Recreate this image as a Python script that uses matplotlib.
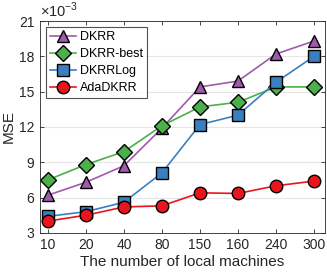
import matplotlib.pyplot as plt
import numpy as np

plt.rcParams['font.family'] = ['Liberation Sans', 'DejaVu Sans']
plt.rcParams['mathtext.fontset'] = 'custom'
plt.rcParams['mathtext.rm'] = 'Liberation Sans'

machines = ['10', '20', '40', '80', '150', '160', '240', '300']
dkrr = [6.2, 7.3, 8.7, 11.9, 15.4, 15.9, 18.2, 19.3]
dkrr_best = [7.5, 8.8, 9.9, 12.1, 13.7, 14.1, 15.4, 15.4]
dkrr_log = [4.4, 4.8, 5.6, 8.1, 12.2, 13.0, 15.8, 18.0]
ada_dkrr = [4.0, 4.5, 5.2, 5.3, 6.4, 6.35, 7.0, 7.4]

fig = plt.figure(figsize=(3.27, 2.73), dpi=100)
ax = fig.add_axes([0.122, 0.147, 0.872, 0.776])

x = np.arange(1, len(machines) + 1)
series = [
    ('DKRR', dkrr, '#A05AAC', '^'),
    ('DKRR-best', dkrr_best, '#4DAF4A', 'D'),
    ('DKRRLog', dkrr_log, '#3A80C0', 's'),
    ('AdaDKRR', ada_dkrr, '#E8161C', 'o'),
]
for name, vals, col, mk in series:
    ms = 9 if mk != 'D' else 8
    ax.plot(x, vals, color=col, marker=mk, markersize=ms, markeredgecolor='k',
            markerfacecolor=col, markeredgewidth=1.0, linewidth=1.2, label=name)

ax.set_xlim(0.79, 8.29)
ax.set_ylim(3, 21)
ax.set_xticks(x)
ax.set_xticklabels(machines)
ax.set_yticks([3, 6, 9, 12, 15, 18, 21])
ax.tick_params(direction='in', top=True, right=True, labelsize=10, length=3, width=0.6,
               colors='#262626', pad=4)
ax.grid(axis='y', color='#e6e6e6', linewidth=0.8)
ax.set_axisbelow(True)
for s in ax.spines.values():
    s.set_color('#262626')
    s.set_linewidth(0.6)

ax.set_xlabel('The number of local machines', fontsize=11, color='#262626', labelpad=2)
ax.set_ylabel('MSE', fontsize=11, color='#262626', labelpad=2)
ax.text(0.0, 1.005, r'$\times10^{-3}$', transform=ax.transAxes, fontsize=10.5, color='#262626',
        ha='left', va='bottom')

leg = ax.legend(loc='upper left', fontsize=9, frameon=True, fancybox=False,
                edgecolor='#262626', borderpad=0.3, handlelength=2.1, labelspacing=0.4,
                handletextpad=0.3, borderaxespad=0.5)
leg.get_frame().set_linewidth(0.8)

fig.savefig('out.png', dpi=100)
